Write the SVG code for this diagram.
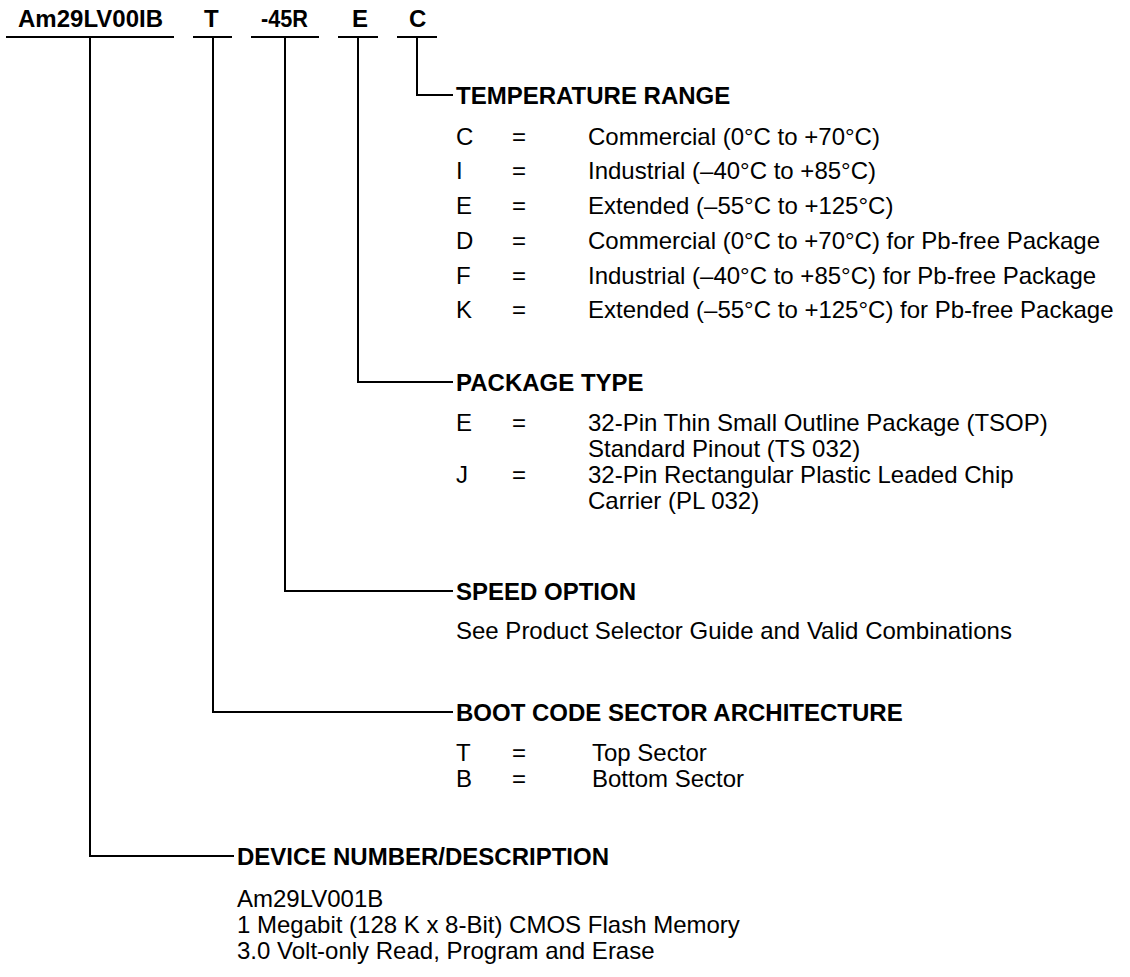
<svg xmlns="http://www.w3.org/2000/svg" width="1130" height="977" viewBox="0 0 1130 977">
<style>
.ln{stroke:#000;stroke-width:2;fill:none}
.hd{font-family:"Liberation Sans",Arial,sans-serif;font-weight:bold;font-size:24px;fill:#000}
.pn{font-family:"Liberation Sans",Arial,sans-serif;font-weight:bold;font-size:24px;fill:#000}
.tx{font-family:"Liberation Sans",Arial,sans-serif;font-size:24px;fill:#000}
</style>
<rect width="1130" height="977" fill="#fff"/>
<g id="part-number">
<text class="pn" x="18" y="27" textLength="145" lengthAdjust="spacingAndGlyphs">Am29LV00IB</text>
<text class="pn" x="204" y="27">T</text>
<text class="pn" x="261" y="27" textLength="47" lengthAdjust="spacingAndGlyphs">-45R</text>
<text class="pn" x="352" y="27">E</text>
<text class="pn" x="409" y="27">C</text>
</g>
<g id="connectors">
<path class="ln" d="M6 37H174M193 37H232M251 37H319M338 37H378M397 37H437"/>
<path class="ln" d="M417 37V95H453"/>
<path class="ln" d="M358 37V382H453"/>
<path class="ln" d="M285 37V591H453"/>
<path class="ln" d="M213 37V712H453"/>
<path class="ln" d="M90 37V856H234"/>
</g>
<g id="temperature-range">
<text class="hd" x="456" y="104">TEMPERATURE RANGE</text>
<text class="tx" x="456" y="145">C</text><text class="tx" x="512" y="145">=</text><text class="tx" x="588" y="145">Commercial (0°C to +70°C)</text>
<text class="tx" x="456" y="179">I</text><text class="tx" x="512" y="179">=</text><text class="tx" x="588" y="179">Industrial (–40°C to +85°C)</text>
<text class="tx" x="456" y="214">E</text><text class="tx" x="512" y="214">=</text><text class="tx" x="588" y="214">Extended (–55°C to +125°C)</text>
<text class="tx" x="456" y="249">D</text><text class="tx" x="512" y="249">=</text><text class="tx" x="588" y="249">Commercial (0°C to +70°C) for Pb-free Package</text>
<text class="tx" x="456" y="284">F</text><text class="tx" x="512" y="284">=</text><text class="tx" x="588" y="284">Industrial (–40°C to +85°C) for Pb-free Package</text>
<text class="tx" x="456" y="318">K</text><text class="tx" x="512" y="318">=</text><text class="tx" x="588" y="318">Extended (–55°C to +125°C) for Pb-free Package</text>
</g>
<g id="package-type">
<text class="hd" x="456" y="391">PACKAGE TYPE</text>
<text class="tx" x="456" y="431">E</text><text class="tx" x="512" y="431">=</text><text class="tx" x="588" y="431">32-Pin Thin Small Outline Package (TSOP)</text>
<text class="tx" x="588" y="457">Standard Pinout (TS 032)</text>
<text class="tx" x="456" y="483">J</text><text class="tx" x="512" y="483">=</text><text class="tx" x="588" y="483">32-Pin Rectangular Plastic Leaded Chip</text>
<text class="tx" x="588" y="509">Carrier (PL 032)</text>
</g>
<g id="speed-option">
<text class="hd" x="456" y="600">SPEED OPTION</text>
<text class="tx" x="456" y="639">See Product Selector Guide and Valid Combinations</text>
</g>
<g id="boot-code">
<text class="hd" x="456" y="721">BOOT CODE SECTOR ARCHITECTURE</text>
<text class="tx" x="456" y="761">T</text><text class="tx" x="512" y="761">=</text><text class="tx" x="592" y="761">Top Sector</text>
<text class="tx" x="456" y="787">B</text><text class="tx" x="512" y="787">=</text><text class="tx" x="592" y="787">Bottom Sector</text>
</g>
<g id="device-number">
<text class="hd" x="237" y="865">DEVICE NUMBER/DESCRIPTION</text>
<text class="tx" x="237" y="907">Am29LV001B</text>
<text class="tx" x="237" y="933">1 Megabit (128 K x 8-Bit) CMOS Flash Memory</text>
<text class="tx" x="237" y="959">3.0 Volt-only Read, Program and Erase</text>
</g>
</svg>
